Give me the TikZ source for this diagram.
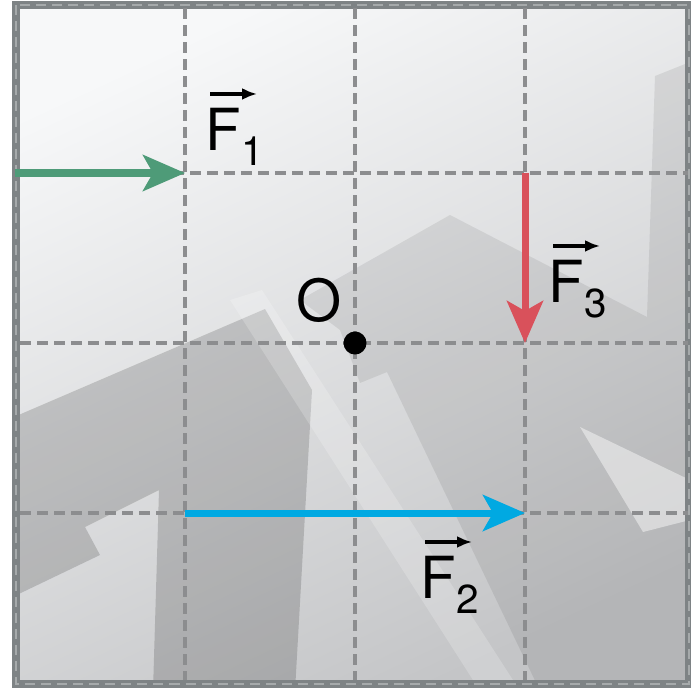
\documentclass[tikz,border=0pt]{standalone}
\usepackage{fontspec}
\setmainfont{TeX Gyre Heros}
\usetikzlibrary{arrows.meta, positioning}
\definecolor{clrGrid}{HTML}{8C8D8F}
\definecolor{clrFrm}{HTML}{7E8385}
\definecolor{clrFrmLt}{HTML}{A6AAAB}
\definecolor{clrPlLt}{HTML}{F7F8F9}
\definecolor{clrPlDk}{HTML}{C4C5C7}
\definecolor{clrOne}{HTML}{4E9B78}
\definecolor{clrTwo}{HTML}{00A9E2}
\definecolor{clrThr}{HTML}{D9515B}
\newcommand{\fsub}[1]{F\raisebox{-4.3pt}{\fontsize{11.5}{12}\selectfont #1}}

\begin{document}
\begin{tikzpicture}[x=0.01cm, y=-0.01cm,
    gridln/.style={draw=clrGrid, line width=0.04cm, dash pattern=on 0.11cm off 0.06cm},
    force/.style={line width=0.07cm, -{Stealth[length=0.42cm, width=0.36cm, inset=0.1cm]}},
    vecarr/.style={line width=0.035cm, -{Latex[length=0.15cm, width=0.12cm]}},
    lbl/.style={font=\fontsize{16.5}{19}\selectfont, inner sep=0pt}]
  \useasboundingbox (0,0) rectangle (690,691);
  \begin{scope}
    \clip (16,5) rectangle (689,684);
    \shade[top color=clrPlLt, bottom color=clrPlDk, shading angle=25] (0,0) rectangle (690,691);
    \fill[black, opacity=0.16] (0,423) -- (265,309) -- (312,390) -- (295,691) -- (153,691)
      -- (159,490) -- (85,527) -- (100,555) -- (0,603) -- cycle;
    \fill[black, opacity=0.08] (300,300) -- (450,215) -- (647,317) -- (655,76) -- (690,62)
      -- (690,691) -- (540,691) -- (387,372) -- (360,383) -- (340,330) -- cycle;
    \fill[white, opacity=0.45] (580,427) -- (690,480) -- (690,520) -- (643,532) -- cycle;
    \fill[white, opacity=0.2] (230,300) -- (262,290) -- (520,691) -- (480,691) -- cycle;
  \end{scope}
  \draw[clrFrm, line width=0.08cm] (16,5) rectangle (689,684);
  \draw[clrFrmLt, line width=0.02cm, dash pattern=on 0.1cm off 0.06cm] (16,5) rectangle (689,684);
  \foreach \gx in {185,355,525} \draw[gridln] (\gx,8) -- (\gx,680);
  \foreach \gy in {173,343,513} \draw[gridln] (20,\gy) -- (688,\gy);
  \coordinate (o) at (355,343);
  \coordinate (f1s) at (15,173);
  \coordinate (f1e) at (185,173);
  \coordinate (f2s) at (185,513);
  \coordinate (f2e) at (525,513);
  \coordinate (f3s) at (525,173);
  \coordinate (f3e) at (525,343);
  \draw[force, clrOne] (f1s) -- (f1e);
  \draw[force, clrTwo] (f2s) -- (f2e);
  \draw[force, clrThr] (f3s) -- (f3e);
  \fill[black] (o) circle[radius=0.115cm];
  \node[lbl, above left=0.2cm and 0.13cm of o] (lo) {O};
  \node[lbl, anchor=base west] (lf1) at (205,150) {\fsub{1}};
  \node[lbl, anchor=base west] (lf2) at (420,598) {\fsub{2}};
  \node[lbl, anchor=base west] (lf3) at (548,302) {\fsub{3}};
  \foreach \l in {lf1,lf2,lf3}
    \draw[vecarr] ([xshift=0.05cm, yshift=0.13cm]\l.north west) -- ([xshift=0.52cm, yshift=0.13cm]\l.north west);
\end{tikzpicture}
\end{document}
